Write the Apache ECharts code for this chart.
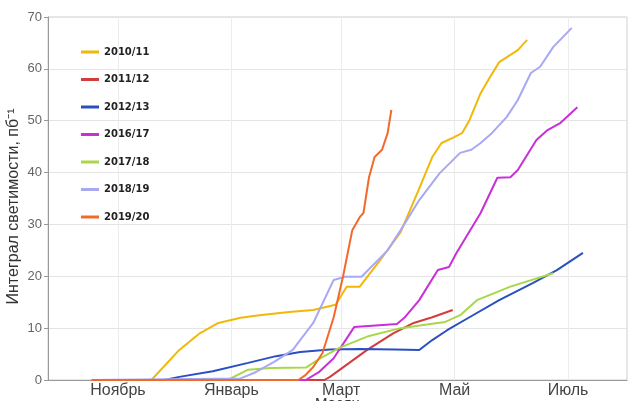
<!DOCTYPE html>
<html>
<head>
<meta charset="utf-8">
<script src="https://cdn.jsdelivr.net/npm/echarts@6/dist/echarts.min.js"></script>
<style>html,body{margin:0;padding:0;background:#fff}#c{width:629px;height:401px}</style>
</head>
<body>
<div id="c"></div>
<script>
// x = days since 1 November
const seasonNames = ['2010/11','2011/12','2012/13','2016/17','2017/18','2018/19','2019/20'];
const monthTickDays = [0, 61, 120, 181, 242];
const monthTickLabels = ['Ноябрь','Январь','Март','Май','Июль'];
const yTicks = [0,10,20,30,40,50,60,70];

const d1011 = [-14,18,33,44,54,66,76,92,105,117,123,130,141,152,161,169,174,180,185,189,195,200,205,211,215,220];
const v1011 = [0,0,5.8,9,11,12,12.5,13.1,13.5,14.5,18,18,23.1,28.5,36.1,43,45.7,46.7,47.6,50.1,55.3,58.4,61.3,62.7,63.6,65.6];

const d1112 = [-14,111,114,119,134,148,159,169,180];
const v1112 = [0,0,0.6,1.9,5.8,9,11,12.1,13.5];

const d1213 = [-14,25,33,51,70,85,98,114,130,149,162,169,177,189,205,223,236,250];
const v1213 = [0,0,0.6,1.7,3.3,4.6,5.4,5.9,6.0,5.9,5.8,7.7,9.6,12.1,15.4,18.7,21.2,24.5];

const d1617 = [-14,101,108,116,127,150,154,162,172,178,182,195,204,211,215,225,231,238,247];
const v1617 = [0,0,1.5,4.2,10.2,10.8,12,15.4,21.2,21.8,24.5,32.2,39,39.1,40.5,46.3,48.2,49.6,52.6];

const d1718 = [-14,59,70,82,101,109,119,135,152,168,176,184,193,211,234];
const v1718 = [0,0,2,2.3,2.4,4.2,6.2,8.5,10,10.8,11.2,12.5,15.4,18,20.6];

const d1819 = [-14,66,74,84,94,105,116,122,131,145,152,162,173,184,190,195,201,209,215,222,227,234,244];
const v1819 = [0,0.3,1.5,3.5,5.8,11,19.3,19.9,19.9,25,28.9,34.7,39.9,43.8,44.4,45.7,47.6,50.7,54,59.2,60.4,64.2,67.9];

const d1920 = [-14,97,101,105,110,116,121,126,130,132,135,138,142,145,147];
const v1920 = [0,0,1,2.5,5.2,12.1,19.9,28.9,31.4,32.2,39.1,43,44.4,47.6,52.1];

const seasonDays = [d1011,d1112,d1213,d1617,d1718,d1819,d1920];
const seasonVals = [v1011,v1112,v1213,v1617,v1718,v1819,v1920];
const colors = ['#f0b90a','#d23c3c','#2a4fc0','#c82fd8','#a8d84a','#a9a8f2','#f26a2a'];

const series = seasonNames.map((n,i)=>({
  name:n, type:'line', showSymbol:false, symbol:'none', smooth:false,
  lineStyle:{width:2,color:colors[i]}, itemStyle:{color:colors[i]},
  data: seasonDays[i].map((d,j)=>[d, seasonVals[i][j]])
}));

const chart = echarts.init(document.getElementById('c'), null, {renderer:'canvas'});
chart.setOption({
  animation:false,
  backgroundColor:'#fff',
  grid:{left:48, right:2, top:17, bottom:21, containLabel:false, outerBoundsMode:'none',
        show:true, borderColor:'#cfcfcf', borderWidth:1},
  legend:{
    orient:'vertical', left:76, top:42, itemGap:17.5, itemWidth:18, itemHeight:3, icon:'rect',
    textStyle:{fontFamily:'DejaVu Sans', fontSize:10, fontWeight:'bold', color:'#222'},
    data: seasonNames
  },
  xAxis:{
    type:'value', min:-37.6, max:273.7,
    name:'Месяц', nameLocation:'middle', nameGap:16, nameMoveOverlap:false,
    nameTextStyle:{fontFamily:'Liberation Sans', fontSize:15, color:'#333', verticalAlign:'top'},
    axisLine:{onZero:false, lineStyle:{color:'#999'}},
    axisTick:{show:false, customValues:monthTickDays},
    axisLabel:{customValues:monthTickDays, margin:3, fontFamily:'Liberation Sans', fontSize:16, color:'#444',
      formatter:(v)=>{const k=monthTickDays.indexOf(v); return k>=0?monthTickLabels[k]:'';}},
    splitLine:{show:true, lineStyle:{color:'#ececec'}}
  },
  yAxis:{
    type:'value', min:0, max:70, interval:10,
    name:'Интеграл светимости, пб⁻¹', nameLocation:'middle', nameGap:26, nameRotate:90, nameMoveOverlap:false,
    nameTextStyle:{fontFamily:'Liberation Sans', fontSize:16, color:'#333', padding:[0,16,0,0]},
    axisLine:{show:true, onZero:false, lineStyle:{color:'#999'}},
    axisTick:{show:true, inside:false, length:4, lineStyle:{color:'#999'}},
    axisLabel:{margin:6, fontFamily:'Liberation Sans', fontSize:13, color:'#666'},
    splitLine:{show:true, lineStyle:{color:'#e4e4e4'}}
  },
  series: series
});
</script>
</body>
</html>
